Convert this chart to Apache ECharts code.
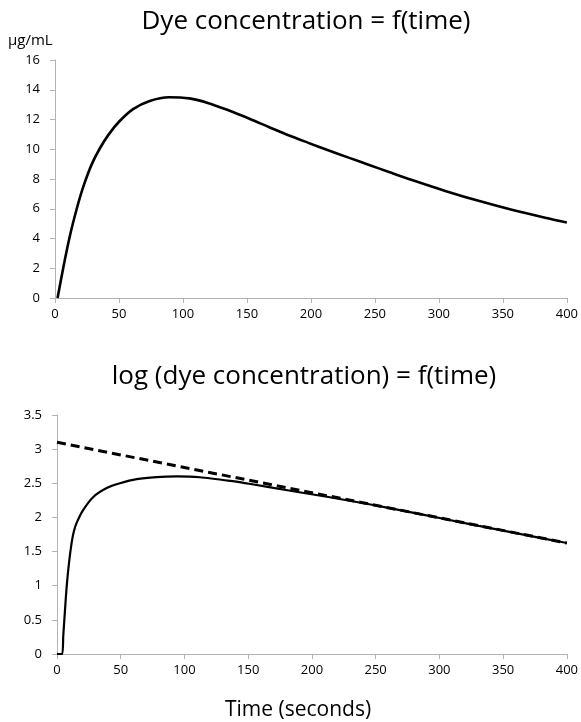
<!DOCTYPE html>
<html>
<head>
<meta charset="utf-8">
<script src="https://cdn.jsdelivr.net/npm/echarts@6/dist/echarts.min.js"></script>
<style>html,body{margin:0;padding:0;background:#fff}#c{width:581px;height:722px}</style>
</head>
<body>
<div id="c"></div>
<script>
// Top panel: dye concentration (µg/mL) vs time (s)
var concTime = [2,6.5,11.7,17,22,28.5,35,42,50,61,74,89,105,120,136,152,167,183,198,214,230,245,261,279,305,331,357,383,400];
var concValues = [0,2.05,4.2,6.0,7.45,8.95,10.05,11.0,11.85,12.7,13.25,13.5,13.42,13.1,12.6,12.05,11.5,10.92,10.43,9.92,9.42,8.96,8.47,7.93,7.2,6.53,5.93,5.4,5.08];
// Bottom panel: log(concentration) vs time
var logTime = [0,4,4.9,6.3,7.6,9.4,11.5,13.3,15.4,20.6,28.5,39,49.4,62.5,78,94,112,136,152,183,214,245,279,305,331,357,383,400];
var logValues = [0,0,0.26,0.65,0.99,1.33,1.63,1.8,1.92,2.11,2.3,2.43,2.5,2.56,2.59,2.6,2.588,2.534,2.489,2.391,2.295,2.193,2.071,1.974,1.876,1.78,1.686,1.625];
// Dashed straight line (extrapolated decay)
var lineTime = [0,400];
var lineValues = [3.10,1.625];
var xTicks = [0,50,100,150,200,250,300,350,400];
var topYTicks = [0,2,4,6,8,10,12,14,16];
var botYTicks = [0,0.5,1,1.5,2,2.5,3,3.5];

var titleTop = 'Dye concentration = f(time)';
var titleBottom = 'log (dye concentration) = f(time)';
var unitLabel = 'μg/mL';
var xName = 'Time (seconds)';

function pairs(xs, ys){ return xs.map(function(x,i){ return [x, ys[i]]; }); }

var FONT = '"Open Sans", sans-serif';
var axisGray = '#b3b3b3';
var labelStyle = {color:'#000', fontSize:13, fontFamily:FONT};

function xAxis(gi){
  return {type:'value', gridIndex:gi, min:0, max:400, interval:50,
    axisLine:{show:true, lineStyle:{color:axisGray, width:1}},
    axisTick:{show:true, length:5, lineStyle:{color:axisGray}},
    splitLine:{show:false},
    axisLabel:Object.assign({margin:10}, labelStyle)};
}
function yAxis(gi, max, interval){
  return {type:'value', gridIndex:gi, min:0, max:max, interval:interval,
    axisLine:{show:true, lineStyle:{color:axisGray, width:1}},
    axisTick:{show:true, length:5, lineStyle:{color:axisGray}},
    splitLine:{show:false},
    axisLabel:Object.assign({margin:15}, labelStyle)};
}

var chart = echarts.init(document.getElementById('c'), null, {renderer:'canvas'});
chart.setOption({
  animation:false,
  backgroundColor:'#fff',
  grid:[
    {left:55, right:12, top:60, bottom:424},
    {left:57, right:14, top:415, bottom:68}
  ],
  xAxis:[xAxis(0), xAxis(1)],
  yAxis:[yAxis(0,16,2), yAxis(1,3.5,0.5)],
  graphic:[
    {type:'text', style:{x:306, y:22, text:titleTop, font:'26px '+FONT, fill:'#000', textAlign:'center', textVerticalAlign:'middle'}},
    {type:'text', style:{x:304, y:377, text:titleBottom, font:'26px '+FONT, fill:'#000', textAlign:'center', textVerticalAlign:'middle'}},
    {type:'text', style:{x:8, y:41, text:unitLabel, font:'15px '+FONT, fill:'#000', textAlign:'left', textVerticalAlign:'middle'}},
    {type:'text', style:{x:298, y:710, text:xName, font:'21px '+FONT, fill:'#000', textAlign:'center', textVerticalAlign:'middle'}}
  ],
  series:[
    {type:'line', xAxisIndex:0, yAxisIndex:0, data:pairs(concTime, concValues), showSymbol:false, smooth:0.3,
      lineStyle:{color:'#000', width:2.6}},
    {type:'line', xAxisIndex:1, yAxisIndex:1, data:pairs(logTime, logValues), showSymbol:false, smooth:0.25,
      lineStyle:{color:'#000', width:2.2}},
    {type:'line', xAxisIndex:1, yAxisIndex:1, data:pairs(lineTime, lineValues), showSymbol:false,
      lineStyle:{color:'#000', width:3, type:[9,5]}}
  ]
});
</script>
</body>
</html>
